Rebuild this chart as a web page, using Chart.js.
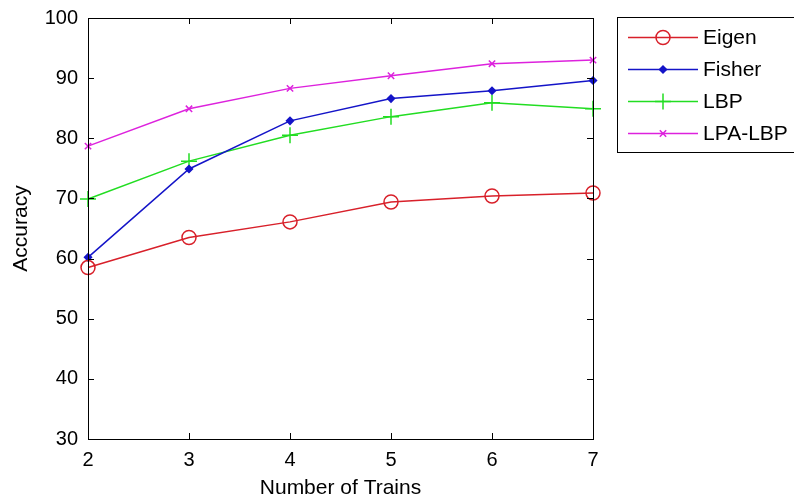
<!DOCTYPE html>
<html>
<head>
<meta charset="utf-8">
<script src="https://cdn.jsdelivr.net/npm/chart.js"></script>
<style>
  html, body { margin: 0; padding: 0; background: #fff; }
  #wrap { width: 794px; height: 502px; }
</style>
</head>
<body>
<div id="wrap"><canvas id="c" width="794" height="502"></canvas></div>
<script>
// data
const trains = [2, 3, 4, 5, 6, 7];
const eigen = [58.5, 63.5, 66.1, 69.4, 70.4, 70.9];
const fisher = [60.2, 74.9, 82.9, 86.6, 87.9, 89.6];
const lbp = [69.9, 76.2, 80.5, 83.6, 85.9, 84.9];
const lpaLbp = [78.7, 84.9, 88.3, 90.4, 92.4, 93.0];
const yTicks = [30, 40, 50, 60, 70, 80, 90, 100];

const FONT = "'Liberation Sans', Arial, sans-serif";

// matlab-style box with inward ticks + boxed legend
const matlabAxes = {
    id: 'matlabAxes',
    afterDraw(chart) {
        const ctx = chart.ctx;
        const a = chart.chartArea;
        const xs = chart.scales.x, ys = chart.scales.y;
        const tl = 6;
        ctx.save();
        ctx.strokeStyle = '#000';
        ctx.lineWidth = 1;
        ctx.strokeRect(Math.round(a.left) + 0.5, Math.round(a.top) + 0.5,
            Math.round(a.right - a.left), Math.round(a.bottom - a.top));
        ctx.beginPath();
        trains.forEach((t, i) => {
            const px = Math.round(xs.getPixelForValue(i)) + 0.5;
            ctx.moveTo(px, a.bottom); ctx.lineTo(px, a.bottom - tl);
            ctx.moveTo(px, a.top); ctx.lineTo(px, a.top + tl);
        });
        yTicks.forEach(v => {
            const py = Math.round(ys.getPixelForValue(v)) + 0.5;
            ctx.moveTo(a.left, py); ctx.lineTo(a.left + tl, py);
            ctx.moveTo(a.right, py); ctx.lineTo(a.right - tl, py);
        });
        ctx.stroke();

        // legend
        const lx = 617, ly = 17, lh = 135, rowH = 32, row0 = 37;
        ctx.strokeRect(lx + 0.5, ly + 0.5, 200, lh);
        ctx.font = '21px ' + FONT;
        ctx.textBaseline = 'middle';
        ctx.textAlign = 'left';
        chart.data.datasets.forEach((ds, i) => {
            const y = row0 + i * rowH;
            ctx.strokeStyle = ds.borderColor;
            ctx.lineWidth = ds.borderWidth;
            ctx.beginPath();
            ctx.moveTo(628, y + 0.5); ctx.lineTo(698, y + 0.5);
            ctx.stroke();
            ctx.fillStyle = ds.pointBackgroundColor;
            ctx.strokeStyle = ds.borderColor;
            ctx.lineWidth = ds.pointBorderWidth;
            Chart.helpers.drawPoint(ctx, {
                pointStyle: ds.pointStyle, radius: ds.pointRadius,
                rotation: 0, borderWidth: ds.pointBorderWidth
            }, 663, y + 0.5);
            ctx.fillStyle = '#000';
            ctx.fillText(ds.label, 703, y + 1);
        });
        ctx.restore();
    }
};

function series(label, values, color, style, radius, fill) {
    return {
        label: label,
        data: values,
        borderColor: color,
        backgroundColor: color,
        borderWidth: 1.5,
        pointStyle: style,
        pointRadius: radius,
        pointHoverRadius: radius,
        pointBorderWidth: 1.5,
        pointBackgroundColor: fill ? color : 'rgba(0,0,0,0)',
        tension: 0
    };
}

new Chart(document.getElementById('c'), {
    type: 'line',
    data: {
        labels: trains.map(String),
        datasets: [
            series('Eigen', eigen, '#d8202a', 'circle', 7, false),
            series('Fisher', fisher, '#1414c8', 'rectRot', 3.5, true),
            series('LBP', lbp, '#22dd22', 'cross', 8, false),
            series('LPA-LBP', lpaLbp, '#dd22dd', 'crossRot', 4.5, false)
        ]
    },
    options: {
        responsive: false,
        animation: false,
        events: [],
        layout: { padding: { top: 18, right: 201, left: 0, bottom: 0 } },
        plugins: { legend: { display: false }, tooltip: { enabled: false } },
        scales: {
            x: {
                type: 'category',
                offset: false,
                grid: { display: false },
                border: { display: false },
                ticks: { color: '#000', font: { family: FONT, size: 20 }, padding: 1, maxRotation: 0 },
                title: { display: true, text: 'Number of Trains', color: '#000',
                    font: { family: FONT, size: 21 }, padding: { top: 0, bottom: 1 } },
                afterFit(scale) { scale.height = 63; }
            },
            y: {
                min: 30, max: 100,
                grid: { display: false },
                border: { display: false },
                ticks: { stepSize: 10, color: '#000', font: { family: FONT, size: 20 }, padding: 2 },
                title: { display: true, text: 'Accuracy', color: '#000',
                    font: { family: FONT, size: 21 }, padding: { top: 9, bottom: 0 } },
                afterFit(scale) { scale.width = 88; }
            }
        }
    },
    plugins: [matlabAxes]
});
</script>
</body>
</html>
